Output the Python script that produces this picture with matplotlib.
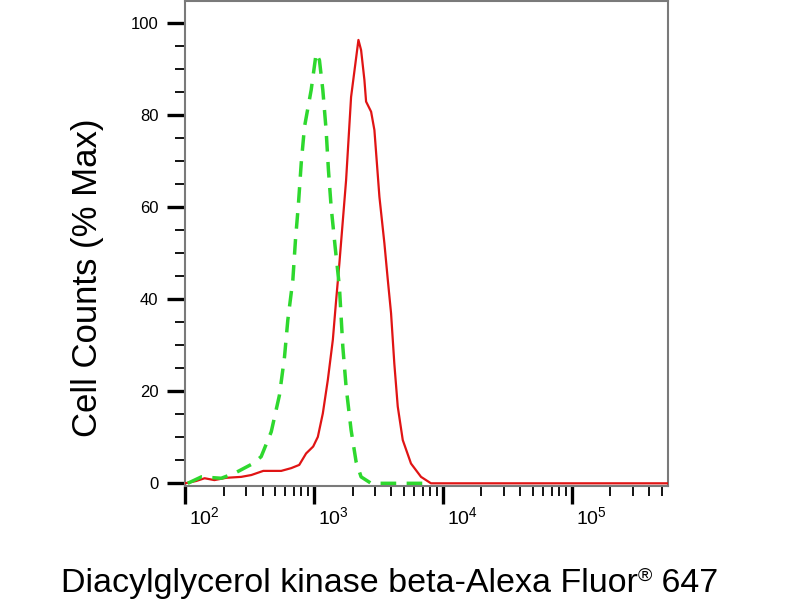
import matplotlib
matplotlib.use("Agg")
import matplotlib.pyplot as plt
import matplotlib.transforms as mtransforms
from matplotlib.ticker import FixedLocator, LogLocator, NullFormatter, FixedFormatter

plt.rcParams['font.family'] = ['Liberation Sans', 'DejaVu Sans']
plt.rcParams['mathtext.fontset'] = 'custom'
plt.rcParams['mathtext.rm'] = 'Liberation Sans'
plt.rcParams['mathtext.it'] = 'Liberation Sans:italic'
plt.rcParams['mathtext.bf'] = 'Liberation Sans:bold'

# isotype control (green dashed)
green_x = [105, 134, 191, 243, 337, 390, 467, 541, 592, 628, 687, 720, 760, 798,
           846, 953, 1042, 1105, 1174, 1245, 1298, 1362, 1463, 1579, 1678, 1779,
           1945, 2127, 2326, 2782, 4000, 6000, 8000]
green_y = [0, 1.4, 1.1, 2.2, 4.3, 5.8, 11.2, 19.2, 27.5, 35.5, 44.2, 52.9, 60.9, 69.6,
           77.5, 85.5, 93.5, 92.0, 85.5, 76.8, 68.1, 60.1, 51.4, 42.7, 29.7, 21.0,
           11.6, 4.7, 1.4, 0, 0, 0, 0]

# stained sample (red solid)
red_x = [100, 122, 142, 169, 209, 273, 327, 405, 558, 667, 770, 871, 988, 1074,
         1174, 1284, 1404, 1489, 1579, 1779, 1945, 2218, 2326, 2468, 2543, 2782,
         2951, 3227, 3527, 3750, 3973, 4213, 4478, 4898, 5675, 6788, 8110,
         20000, 100000, 560000]
red_y = [0, 0.5, 1.1, 0.7, 1.2, 1.4, 1.8, 2.7, 2.7, 3.3, 4.0, 6.5, 8.0, 10.1,
         15.2, 22.5, 31.2, 39.8, 47.9, 65.9, 84.0, 96.4, 94.2, 87.7, 83.0, 80.8,
         76.8, 62.3, 52.2, 44.2, 37.0, 26.0, 16.7, 9.4, 4.3, 1.4, 0,
         0, 0, 0]

x_major = [1e2, 1e3, 1e4, 1e5]
x_labels = [r"$\mathregular{10^{2}}$", r"$\mathregular{10^{3}}$",
            r"$\mathregular{10^{4}}$", r"$\mathregular{10^{5}}$"]
y_major = [0, 20, 40, 60, 80, 100]
y_minor = [5, 10, 15, 25, 30, 35, 45, 50, 55, 65, 70, 75, 85, 90, 95]

fig = plt.figure(figsize=(8, 6), dpi=100)
ax = fig.add_axes([0.23125, 0.1908, 0.6037, 0.807])

ax.plot(red_x, red_y, color='#e01414', lw=1.6, zorder=3)
ax.plot(green_x, green_y, color='#2ed82e', lw=2.5, dashes=(4.5, 3), zorder=4)

ax.set_xscale('log')
ax.set_xlim(100, 5.6e5)
ax.set_ylim(-0.48, 104.8)

ax.xaxis.set_major_locator(FixedLocator(x_major))
ax.xaxis.set_major_formatter(FixedFormatter(x_labels))
ax.xaxis.set_minor_locator(LogLocator(base=10, subs=range(2, 10), numticks=20))
ax.xaxis.set_minor_formatter(NullFormatter())
ax.yaxis.set_major_locator(FixedLocator(y_major))
ax.yaxis.set_minor_locator(FixedLocator(y_minor))

ax.tick_params(axis='both', which='major', direction='out', length=13, width=2.4,
               color='black', labelsize=12)
ax.tick_params(axis='both', which='minor', direction='out', length=7, width=1.3,
               color='black')
ax.tick_params(axis='x', which='major', pad=2, labelsize=14)
ax.tick_params(axis='y', which='major', pad=6)

# labels sit a bit to the right of their ticks
shift = mtransforms.ScaledTranslation(3 / 72, 0, fig.dpi_scale_trans)
for lbl in ax.get_xticklabels():
    lbl.set_horizontalalignment('left')
    lbl.set_transform(lbl.get_transform() + shift)

for sp in ax.spines.values():
    sp.set_color('#7a7a7a')
    sp.set_linewidth(1.5)

fig.text(88 / 800, 1 - 278 / 600, "Cell Counts (% Max)", rotation=90,
         ha='center', va='center', fontsize=25)

# x label in three pieces so the ® can be small and raised
base_y = 1 - 592 / 600
parts = [
    fig.text(0, base_y, "Diacylglycerol kinase beta-Alexa Fluor", va='baseline', fontsize=24.5),
    fig.text(0, base_y + 11 / 600, "®", va='baseline', fontsize=14),
    fig.text(0, base_y, " 647", va='baseline', fontsize=24.5),
]
renderer = fig.canvas.get_renderer()
widths = [p.get_window_extent(renderer).width for p in parts]
x = 390 - sum(widths) / 2
for p, w in zip(parts, widths):
    p.set_x(x / 800)
    x += w

fig.savefig("out.png", dpi=100)
